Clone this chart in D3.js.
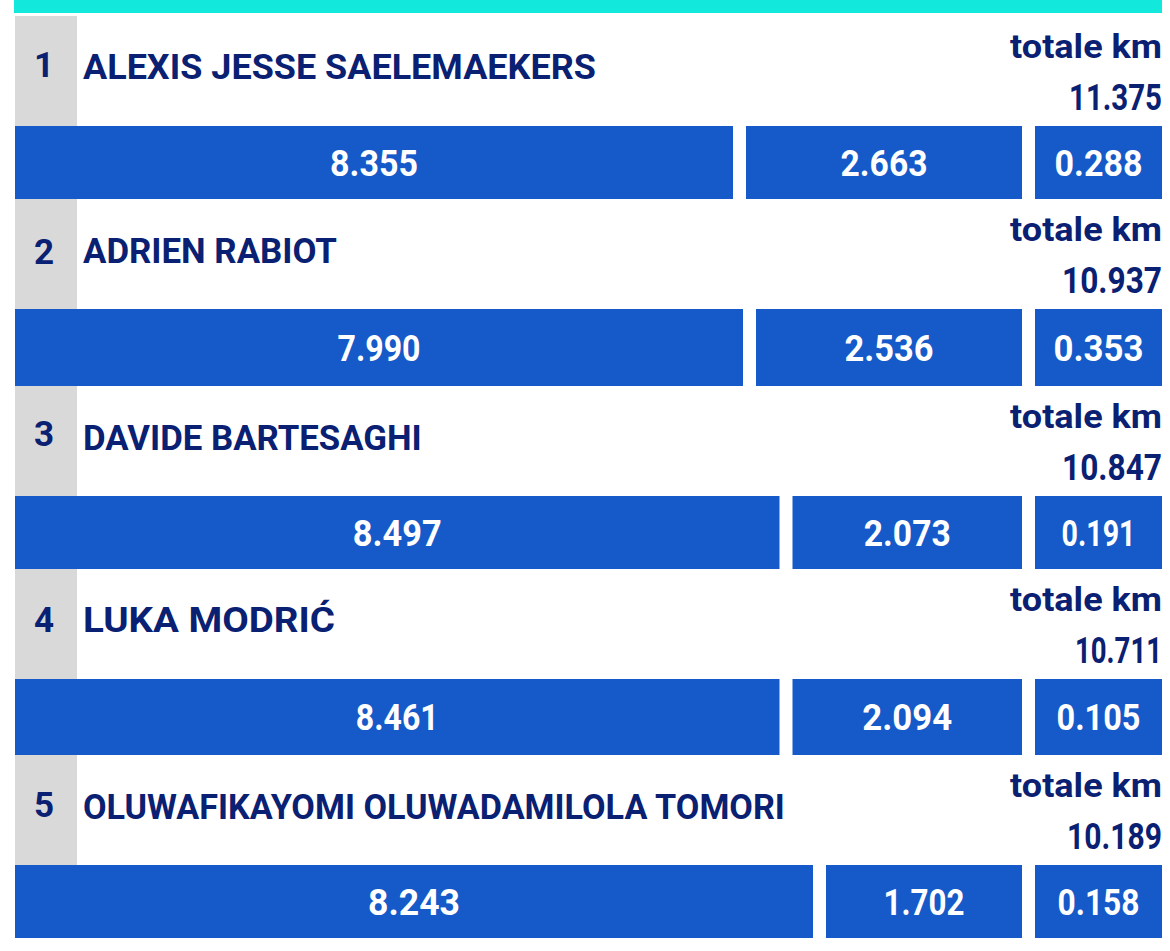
<!DOCTYPE html>
<html><head><meta charset="utf-8"><script src="https://cdn.jsdelivr.net/npm/d3@7"></script>
<style>html,body{margin:0;background:#fff}svg{display:block}text{font-family:Roboto,sans-serif;font-weight:700}</style></head>
<body><svg id="c" width="1170" height="951"></svg>
<script>
// data
const ranks=[1,2,3,4,5];
const names=["ALEXIS JESSE SAELEMAEKERS","ADRIEN RABIOT","DAVIDE BARTESAGHI","LUKA MODRIĆ","OLUWAFIKAYOMI OLUWADAMILOLA TOMORI"];
const totals=[11.375,10.937,10.847,10.711,10.189];
const walk=[8.355,7.990,8.497,8.461,8.243];
const run=[2.663,2.536,2.073,2.094,1.702];
const sprint=[0.288,0.353,0.191,0.105,0.158];
const totalLabel="totale km";

// layout (kept apart from the data)
const rowTops=[16,199,386,569,755];
const barTops=[126,309,496,679,865];
const barBottoms=[199,386,569,755,938];
const rankBase=[61,65,60,63,62];
const nameBase=[63,64,64,63,64];
const nameW=[513,254,339,252,702];
const totalW=[93,100,100,87,95];
const valW=[[88,87,88],[83,89,90],[89,87,74],[83,90,84],[92,81,82]];
const left=15,right=1162,gap=13,sprintW=127;
// the second cell's width grows with its value; the third column is fixed and the first takes what is left
const runWidth=d3.scaleLinear().domain([1.702,2.073,2.094,2.536,2.663]).range([196,229.5,229.5,266,276]);

const fmt=d3.format(".3f");
const navy="#0a2072",blue="#155ac8";
const svg=d3.select("#c");

// draws a text and squeezes it horizontally to the width
function label(g,x,y,str,size,fill,anchor,width){
  const t=g.append("text").attr("font-size",size).attr("fill",fill).attr("text-anchor",anchor).text(str);
  const sx=width?width/t.node().getComputedTextLength():1;
  t.attr("transform",`translate(${x},${y}) scale(${sx},1)`);
  return t;
}

svg.append("rect").attr("x",left-1).attr("y",0).attr("width",right-left+1).attr("height",13).attr("fill","#13e8dc");

ranks.forEach((r,i)=>{
  const g=svg.append("g");
  const top=rowTops[i],bt=barTops[i],bb=barBottoms[i];
  g.append("rect").attr("x",left).attr("y",top).attr("width",62).attr("height",bt-top).attr("fill","#d9d9d9");
  label(g,44,top+rankBase[i],r,35,navy,"middle");
  label(g,83,top+nameBase[i],names[i],35,navy,"start",nameW[i]);
  label(g,right,top+41.5,totalLabel,34,navy,"end",152);
  label(g,right,top+94,fmt(totals[i]),37,navy,"end",totalW[i]);

  const sprintX=right-sprintW;
  const runEnd=sprintX-gap;
  const runX=runEnd-runWidth(run[i]);
  const walkEnd=runX-gap;
  const cells=[[left,walkEnd,walk[i]],[runX,runEnd,run[i]],[sprintX,right,sprint[i]]];
  cells.forEach(([a,b,v],j)=>{
    g.append("rect").attr("x",a).attr("y",bt).attr("width",b-a).attr("height",bb-bt).attr("fill",blue);
    label(g,(a+b)/2,(bt+bb)/2+13,fmt(v),37,"#fff","middle",valW[i][j]);
  });
});
</script></body></html>
